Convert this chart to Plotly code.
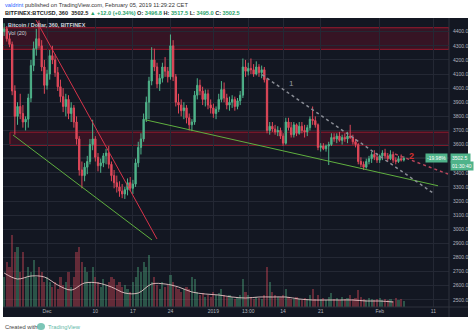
import plotly.graph_objects as go
import pandas as pd

# ---------------- data (12h candles, BITFINEX BTCUSD) ----------------
start = "2018-11-23 00:00"
opens = [4400,4420,4350,4310,3980,3800,3870,3820,3760,3780,
         3930,4160,4280,4350,4300,4150,4020,4100,4230,4200,
         4110,4010,3940,3870,3920,3820,3860,3760,3640,3420,
         3380,3440,3480,3600,3640,3510,3450,3470,3520,3540,
         3460,3380,3330,3300,3270,3250,3280,3330,3290,3320,
         3470,3580,3640,3780,3900,4050,4200,4150,4030,4070,
         4150,4120,4080,4300,4080,3900,3880,3840,3860,3790,
         3740,3760,3950,4020,3980,3920,3960,3880,3860,3820,
         3850,3920,3990,3930,3880,3900,3920,3870,3910,3950,
         4150,4120,4140,4130,4100,4150,4110,4130,4060,3700,
         3730,3710,3690,3700,3660,3610,3760,3720,3670,3740,
         3680,3730,3700,3690,3720,3780,3770,3740,3580,3590,
         3570,3590,3600,3650,3640,3660,3630,3650,3640,3660,
         3650,3620,3600,3480,3460,3440,3480,3500,3530,3510,
         3490,3520,3540,3520,3500,3530,3490,3480,3500,3490]
highs = [4460,4440,4380,4330,4020,3900,3960,3880,3800,3960,
         4200,4330,4420,4480,4340,4200,4130,4270,4300,4240,
         4150,4060,4000,3960,3950,3900,3880,3800,3660,3480,
         3470,3520,3640,3776,3660,3540,3500,3540,3570,3590,
         3480,3420,3380,3340,3320,3300,3360,3370,3350,3500,
         3620,3680,3820,3940,4080,4290,4280,4180,4100,4180,
         4220,4150,4380,4340,4100,3960,3920,3900,3880,3820,
         3780,3980,4070,4060,4010,3990,3990,3920,3890,3870,
         3960,4050,4040,3960,3940,3950,3940,3930,3980,4210,
         4200,4180,4210,4170,4190,4170,4160,4150,4070,3760,
         3760,3740,3730,3720,3680,3790,3790,3760,3760,3750,
         3760,3760,3740,3740,3800,3870,3800,3750,3610,3610,
         3600,3620,3680,3680,3680,3690,3670,3680,3690,3740,
         3670,3640,3610,3510,3480,3500,3520,3550,3560,3540,
         3530,3560,3570,3540,3560,3550,3510,3520,3530,3517.5]
lows = [4370,4330,4290,3950,3670,3740,3780,3720,3700,3720,
        3900,4120,4230,4280,4120,3960,3990,4060,4170,4080,
        3980,3900,3830,3800,3780,3760,3720,3600,3380,3290,
        3340,3390,3460,3560,3480,3410,3400,3440,3460,3430,
        3340,3290,3260,3230,3220,3215,3240,3270,3250,3300,
        3440,3530,3620,3760,3780,4020,4120,4000,3980,4040,
        4080,4040,4060,4050,3870,3820,3800,3780,3750,3700,
        3695,3740,3920,3950,3880,3870,3850,3820,3790,3780,
        3830,3900,3900,3850,3840,3860,3840,3850,3880,3930,
        4080,4090,4100,4080,4090,4080,4070,4040,3680,3670,
        3690,3670,3660,3640,3590,3600,3700,3650,3650,3660,
        3670,3680,3650,3660,3700,3740,3720,3560,3550,3560,
        3550,3455,3590,3620,3610,3620,3600,3620,3610,3640,
        3600,3580,3460,3440,3420,3430,3460,3470,3490,3470,
        3470,3490,3500,3480,3490,3470,3460,3470,3480,3480]
closes = [4420,4350,4310,3980,3800,3870,3820,3760,3780,3930,
          4160,4280,4350,4300,4150,4020,4100,4230,4200,4110,
          4010,3940,3870,3920,3820,3860,3760,3640,3420,3380,
          3440,3480,3600,3640,3510,3450,3470,3520,3540,3460,
          3380,3330,3300,3270,3250,3280,3330,3290,3320,3470,
          3580,3640,3780,3900,4050,4200,4150,4030,4070,4150,
          4120,4080,4300,4080,3900,3880,3840,3860,3790,3740,
          3760,3950,4020,3980,3920,3960,3880,3860,3820,3850,
          3920,3990,3930,3880,3900,3920,3870,3910,3950,4150,
          4120,4140,4130,4100,4150,4110,4130,4060,3700,3730,
          3710,3690,3700,3660,3610,3760,3720,3670,3740,3680,
          3730,3700,3690,3720,3780,3770,3740,3580,3590,3570,
          3590,3600,3650,3640,3660,3630,3650,3640,3660,3650,
          3620,3600,3480,3460,3440,3480,3500,3530,3510,3490,
          3520,3540,3520,3500,3530,3490,3480,3500,3490,3502.5]
volumes = [30,45,40,72, 55,60,35,55,
           30,40,35,47,30, 40,35,25,30,25, 20,25,18,30,22, 25,35,20,30,55,
           60,45,40,35,25, 40,30,25,20,28, 22,25,30,28,22, 25,20,22,18,15,
           25,30,40,35,45, 40,52,25,30,22, 18,25,20,22,32, 25,20,18,15,18,
           20,18,30,28,15, 12,14,10,12,10, 15,12,14,18,12, 10,12,10,8,10,
           12,28,15,12,10, 8,10,9,8,12, 40,25,15,12,10, 10,12,18,10,8,
           8,10,8,7,9, 8,12,18,8,12, 8,9,7,10,14, 8,9,7,10,8,
           9,12,8,9,17, 10,8,7,9,8, 7,8,9,7,8, 7,8,6,9,7,8,6]
# Vol(20) moving-average, every 5th candle
vol_ma = [34,28,31,30,22,17,24,24,20,14,14,23,23,20,15,13,12,10,9,10,
          10,10,8,7,7,7,7,6,6,5]

price_ticks = list(range(2500, 4401, 100))
time_tick_dates = ["2018-12-01", "2018-12-10", "2018-12-17", "2018-12-24", "2019-01-01",
                   "2019-01-07 12:00", "2019-01-14", "2019-01-21", "2019-02-01", "2019-02-11"]
time_tick_text = ["Dec", "10", "17", "24", "2019", "13:00", "14", "21", "Feb", "11"]

# resistance zones (price bands) and drawn trend lines
zones = [("2018-11-22 19:00", 4275, 4428), ("2018-11-24 02:00", 3595, 3688)]
trend_red = [("2018-11-28 22:40", 4483), ("2018-12-21 11:50", 2931)]
trend_green1 = [("2018-11-24 15:45", 3668), ("2018-12-20 13:30", 2924)]
trend_green2 = [("2018-12-19 06:20", 3776), ("2019-02-11 21:00", 3308)]
dotted1 = [("2019-01-10 01:40", 4095), ("2019-02-10 22:35", 3257)]
dotted2 = [("2019-02-03 20:40", 3533), ("2019-02-13 17:30", 3391)]
last_price = 3502.5

# ---------------- figure ----------------
BG = "#131722"
UP = "#4fb38a"
DN = "#e0485a"
GRID = "#242834"
TXT = "#b2b5be"
FONT = "Liberation Sans"

dates = pd.date_range(start, periods=len(closes), freq="12h")
x_range = ["2018-11-22 19:00", "2019-02-13 22:00"]

vol_colors = ["rgba(83,185,135,0.38)" if c >= o else "rgba(235,77,92,0.38)"
              for o, c in zip(opens, closes)]

fig = go.Figure()
fig.add_trace(go.Bar(x=dates, y=volumes, marker_color=vol_colors, marker_line_width=0,
                     width=12 * 3600 * 1000 * 0.8, yaxis="y2", hoverinfo="skip"))
fig.add_trace(go.Scatter(x=list(dates[::5]), y=vol_ma, mode="lines", yaxis="y2",
                         line=dict(color="rgba(240,205,205,0.85)", width=1, shape="spline"),
                         hoverinfo="skip"))
fig.add_trace(go.Candlestick(
    x=dates, open=opens, high=highs, low=lows, close=closes,
    increasing=dict(line=dict(color=UP, width=1), fillcolor=UP),
    decreasing=dict(line=dict(color=DN, width=1), fillcolor=DN),
    whiskerwidth=0, hoverinfo="skip"))

shapes = []
# dark chart panel incl. axes area
shapes.append(dict(type="rect", xref="paper", yref="paper", x0=0, x1=(468 - 3) / 446,
                   y0=(307 - 317) / 289, y1=1, fillcolor=BG, line_width=0, layer="below"))
for x0, lo, hi in zones:
    shapes.append(dict(type="rect", xref="x", yref="y", x0=x0, x1=x_range[1], y0=lo, y1=hi,
                       fillcolor="rgba(130,15,40,0.32)", line=dict(color="#9c1a2e", width=1),
                       layer="below"))
# current price line
shapes.append(dict(type="line", xref="paper", yref="y", x0=0, x1=1, y0=last_price, y1=last_price,
                   line=dict(color="rgba(170,200,185,0.55)", width=1), layer="below"))
for pts, col, dash, w in [(trend_red, "#d8334a", "solid", 1),
                          (trend_green1, "#5faf3f", "solid", 1),
                          (trend_green2, "#5faf3f", "solid", 1),
                          (dotted1, "#8a8d96", "dot", 1.5),
                          (dotted2, "#b8445a", "dot", 1.5)]:
    shapes.append(dict(type="line", xref="x", yref="y", x0=pts[0][0], y0=pts[0][1],
                       x1=pts[1][0], y1=pts[1][1], line=dict(color=col, width=w, dash=dash)))
# axis separators
shapes.append(dict(type="line", xref="paper", yref="paper", x0=1, x1=1, y0=(307 - 317) / 289, y1=1,
                   line=dict(color="#2e323d", width=1)))
shapes.append(dict(type="line", xref="paper", yref="paper", x0=0, x1=(468 - 3) / 446, y0=0, y1=0,
                   line=dict(color="#2e323d", width=1)))
# tradingview logo blob
shapes.append(dict(type="circle", xref="paper", yref="paper",
                   x0=(37 - 3) / 446, x1=(45 - 3) / 446, y0=(307 - 330) / 289, y1=(307 - 323) / 289,
                   fillcolor="#7cc6b7", line_width=0))

ann = []
ann.append(dict(xref="paper", yref="paper", x=0, y=(307 - 5) / 289, xanchor="left", yanchor="middle",
                showarrow=False, font=dict(family=FONT, size=5.7, color="#333"),
                text="<span style='color:#2962ff'>valdrint</span> published on TradingView.com, "
                     "February 05, 2019 11:29:22 CET"))
g = "#26a269"
ann.append(dict(xref="paper", yref="paper", x=0, y=(307 - 13) / 289, xanchor="left", yanchor="middle",
                showarrow=False, font=dict(family=FONT, size=5.6, color="#222"),
                text=f"<b>BITFINEX:BTCUSD, 360  3502.5 <span style='color:{g}'>▲ +12.0 (+0.34%)</span> "
                     f"O: <span style='color:{g}'>3496.8</span> H: <span style='color:{g}'>3517.5</span> "
                     f"L: <span style='color:{g}'>3495.0</span> C: <span style='color:{g}'>3502.5</span></b>"))
ann.append(dict(xref="paper", yref="paper", x=(6 - 3) / 446, y=(307 - 24.5) / 289, xanchor="left",
                yanchor="middle", showarrow=False, font=dict(family=FONT, size=5.4, color="#d1d4dc"),
                text="<b>Bitcoin / Dollar, 360, BITFINEX</b>"))
ann.append(dict(xref="paper", yref="paper", x=(6 - 3) / 446, y=(307 - 33) / 289, xanchor="left",
                yanchor="middle", showarrow=False, font=dict(family=FONT, size=5.4, color="#d1d4dc"),
                text="Vol (20)"))
ann.append(dict(xref="x", yref="y", x="2019-01-15 14:00", y=4034, showarrow=False,
                font=dict(family=FONT, size=8, color="#9598a1"), text="1"))
ann.append(dict(xref="x", yref="y", x="2019-02-06 23:20", y=3521, showarrow=False,
                font=dict(family=FONT, size=9, color="#d32f2f"), text="<b>2</b>"))
# price tags
ann.append(dict(xref="paper", yref="y", x=(449.5 - 3) / 446, y=last_price, xanchor="left",
                yanchor="middle", showarrow=False, bgcolor=UP, borderpad=1,
                font=dict(family=FONT, size=5, color="white"), text="3502.5 "))
ann.append(dict(xref="paper", yref="y", x=(449.5 - 3) / 446, y=3448, xanchor="left",
                yanchor="middle", showarrow=False, bgcolor=UP, borderpad=1,
                font=dict(family=FONT, size=5, color="white"), text="01:30:40"))
ann.append(dict(xref="paper", yref="y", x=(448 - 3) / 446, y=last_price, xanchor="right",
                yanchor="middle", showarrow=False, bgcolor=UP, borderpad=1,
                font=dict(family=FONT, size=5, color="white"), text="-19.98%"))
# footer
ann.append(dict(xref="paper", yref="paper", x=0, y=(307 - 326.5) / 289, xanchor="left",
                yanchor="middle", showarrow=False, font=dict(family=FONT, size=5.8, color="#444"),
                text="Created with"))
ann.append(dict(xref="paper", yref="paper", x=(46 - 3) / 446, y=(307 - 326.5) / 289, xanchor="left",
                yanchor="middle", showarrow=False, font=dict(family=FONT, size=5.8, color="#5fb8a8"),
                text="TradingView"))

fig.update_layout(
    width=474, height=334,
    margin=dict(l=3, r=25, t=18, b=27),
    paper_bgcolor="white", plot_bgcolor=BG,
    showlegend=False, bargap=0,
    shapes=shapes, annotations=ann,
    xaxis=dict(type="date", range=x_range, rangeslider=dict(visible=False),
               tickvals=time_tick_dates, ticktext=time_tick_text, ticks="", ticklen=0,
               showgrid=True, gridcolor=GRID, gridwidth=1, zeroline=False, showline=False,
               tickfont=dict(family=FONT, size=5, color=TXT)),
    yaxis=dict(range=[2449, 4497], side="right", tickvals=price_ticks,
               ticktext=[f"{v:.1f}" for v in price_ticks], ticks="", ticklabelstandoff=3,
               showgrid=True, gridcolor=GRID, gridwidth=1, zeroline=False, showline=False,
               tickfont=dict(family=FONT, size=5, color=TXT)),
    yaxis2=dict(overlaying="y", range=[0, 289], visible=False, showgrid=False),
)

fig.write_html("out.html")
